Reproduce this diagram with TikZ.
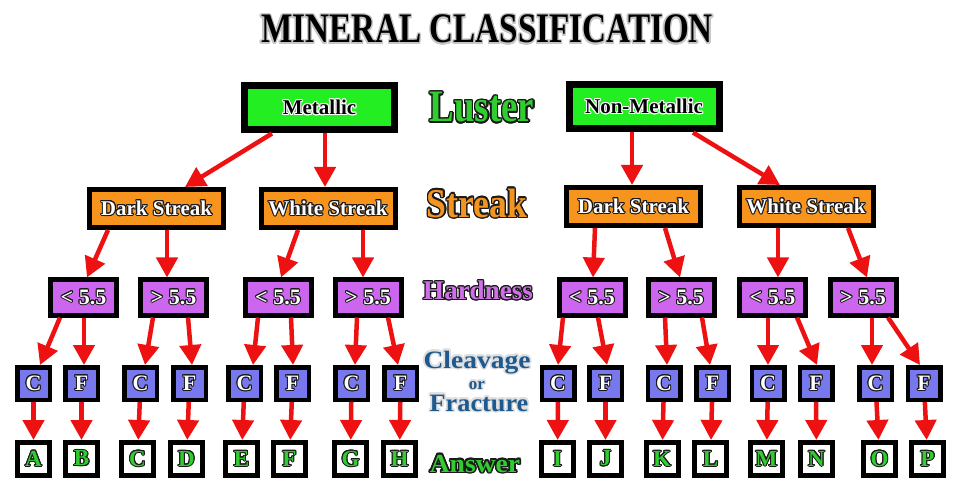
\documentclass[tikz,border=0pt]{standalone}
\usepackage{graphicx}
\usepackage{fontspec}
\setmainfont{Liberation Serif}
\usepackage[copies]{contour}
\usetikzlibrary{arrows.meta}
\definecolor{lusgreen}{HTML}{22EE22}
\definecolor{strorange}{HTML}{F7941D}
\definecolor{hrdviolet}{HTML}{CC66EE}
\definecolor{cfblue}{HTML}{7878EE}
\definecolor{arrred}{HTML}{EE1111}
\definecolor{lblgreen}{HTML}{30CC30}
\definecolor{lblorange}{HTML}{F39420}
\definecolor{lblviolet}{HTML}{D070E8}
\definecolor{lblblue}{HTML}{1E5A8E}
\definecolor{darkline}{HTML}{1A1A1A}
\contourlength{1pt}
\newcommand{\shd}[1]{\contour{darkline}{#1}}

\tikzset{
  lusbox/.style={draw=black, line width=7pt, fill=lusgreen, minimum width=150pt,
    minimum height=44pt, inner sep=0pt, font=\fontsize{21}{21}\selectfont\bfseries},
  strbox/.style={draw=black, line width=5pt, fill=strorange, minimum width=134pt,
    minimum height=38pt, inner sep=0pt, text=white, font=\fontsize{21}{21}\selectfont\bfseries},
  hrdbox/.style={draw=black, line width=5pt, fill=hrdviolet, minimum width=66pt,
    minimum height=35pt, inner sep=0pt, text=white, font=\fontsize{22}{22}\selectfont\bfseries},
  cfbox/.style={draw=black, line width=4.5pt, fill=cfblue, minimum width=32.5pt,
    minimum height=32.5pt, inner sep=0pt, text=white, font=\fontsize{22}{22}\selectfont\bfseries},
  ansbox/.style={draw=black, line width=5pt, fill=white, minimum width=32pt,
    minimum height=33pt, inner sep=0pt, text=lblgreen, font=\fontsize{23}{23}\selectfont\bfseries},
  arrow/.style={draw=arrred, line width=4.5pt, -{Triangle[length=20pt,width=21pt]}},
  rowlabel/.style={inner sep=0pt, font=\bfseries}
}

\begin{document}
\begin{tikzpicture}[x=1pt,y=-1pt]
\useasboundingbox (0,0) rectangle (960,502);

% Title
\node[rowlabel, font=\fontsize{42}{42}\selectfont\bfseries] (title) at (487,30)
  {\contourlength{1.5pt}\scalebox{0.79}[1]{\contour{gray!45}{MINERAL CLASSIFICATION}}};

% Luster
\node[lusbox] (met) at (319.5,108) {\contour{white}{Metallic}};
\node[lusbox] (non) at (644,107) {\contour{white}{Non-Metallic}};

% Streak
\foreach \n/\x/\y/\t in {ds1/156.5/208.5/Dark Streak, ws1/328/208.5/White Streak,
                         ds2/633.5/206.5/Dark Streak, ws2/806/206.5/White Streak}
  \node[strbox] (\n) at (\x,\y) {\shd{\t}};

% Hardness
\foreach \i/\x/\t in {1/83.5/<, 2/173.5/>, 3/278/<, 4/368/>,
                      5/592/<, 6/681/>, 7/772.5/<, 8/863/>}
  \node[hrdbox] (h\i) at (\x,297.5) {\shd{\t\ 5.5}};

% Cleavage or fracture
\foreach \i/\x/\t in {1/33.5/C, 2/81.5/F, 3/140.5/C, 4/189.5/F, 5/244.5/C, 6/292.5/F,
                      7/351.5/C, 8/400.5/F, 9/558/C, 10/605.5/F, 11/664/C, 12/712.5/F,
                      13/768/C, 14/816/F, 15/875.5/C, 16/924/F}
  \node[cfbox] (cf\i) at (\x,383.5) {\shd{\t}};

% Answers
\foreach \i/\x/\t in {1/33.5/A, 2/81.5/B, 3/137.5/C, 4/186.5/D, 5/241.5/E, 6/289.5/F,
                      7/350.5/G, 8/399.5/H, 9/557.5/I, 10/605.5/J, 11/662/K, 12/710.5/L,
                      13/766.5/M, 14/816.5/N, 15/879.5/O, 16/927.5/P}
  \node[ansbox] (ans\i) at (\x,459) {\contour{darkline}{\t}};

% Row labels
\node[rowlabel, font=\fontsize{45}{45}\selectfont\bfseries, text=lblgreen] (luster) at (482,108)
  {\contourlength{1.6pt}\scalebox{0.82}[1]{\contour{darkline}{Luster}}};
\node[rowlabel, font=\fontsize{41}{41}\selectfont\bfseries, text=lblorange] (streak) at (477,204)
  {\contourlength{1.6pt}\scalebox{0.87}[1]{\contour{darkline}{Streak}}};
\node[rowlabel, font=\fontsize{27}{27}\selectfont\bfseries, text=lblviolet] (hardness) at (478,291)
  {\contourlength{1.2pt}\contour{darkline}{Hardness}};
\node[rowlabel, anchor=base, font=\fontsize{25}{25}\selectfont\bfseries, text=lblblue] (cleav) at (477,368)
  {\contourlength{1.5pt}\scalebox{1.1}[1]{\contour{gray!25}{Cleavage}}};
\node[rowlabel, anchor=base, font=\fontsize{17}{17}\selectfont\bfseries, text=lblblue] (or) at (477,389)
  {\contourlength{1.2pt}\contour{gray!25}{or}};
\node[rowlabel, anchor=base, font=\fontsize{25}{25}\selectfont\bfseries, text=lblblue] (fract) at (479,411)
  {\contourlength{1.5pt}\scalebox{1.05}[1]{\contour{gray!25}{Fracture}}};
\node[rowlabel, anchor=base, font=\fontsize{26}{26}\selectfont\bfseries, text=lblgreen] (answer) at (475,472)
  {\contourlength{1.5pt}\scalebox{1.06}[1]{\contour{darkline}{Answer}}};

% Arrows between rows: parent/start shift/child/end shift
\foreach \p/\a/\c/\b in {met/-47.5/ds1/28.5, met/5.5/ws1/-3, non/-12/ds2/-1.5, non/49/ws2/-26,
    ds1/-48.5/h1/3.5, ds1/10.5/h2/-6.5, ws1/-30/h3/3, ws1/35/h4/-5,
    ds2/-38.5/h5/1, ds2/31.5/h6/-1, ws2/-28/h7/5.5, ws2/42/h8/4,
    h1/-23.5/cf1/6.5, h1/0.5/cf2/2.5, h2/-20.5/cf3/4.5, h2/14.5/cf4/2.5,
    h3/-20/cf5/8.5, h3/13/cf6/0.5, h4/-11/cf7/3.5, h4/20/cf8/-2.5,
    h5/-29/cf9/0, h5/6/cf10/1.5, h6/-16/cf11/3, h6/21/cf12/-2.5,
    h7/-4.5/cf13/0, h7/24.5/cf14/1, h8/9/cf15/-3.5, h8/25/cf16/-4}
  \draw[arrow] ([xshift=\a]\p.south) -- ([xshift=\b]\c.north);
\foreach \i in {1,...,16}
  \draw[arrow] (cf\i) -- (ans\i);
\end{tikzpicture}
\end{document}
